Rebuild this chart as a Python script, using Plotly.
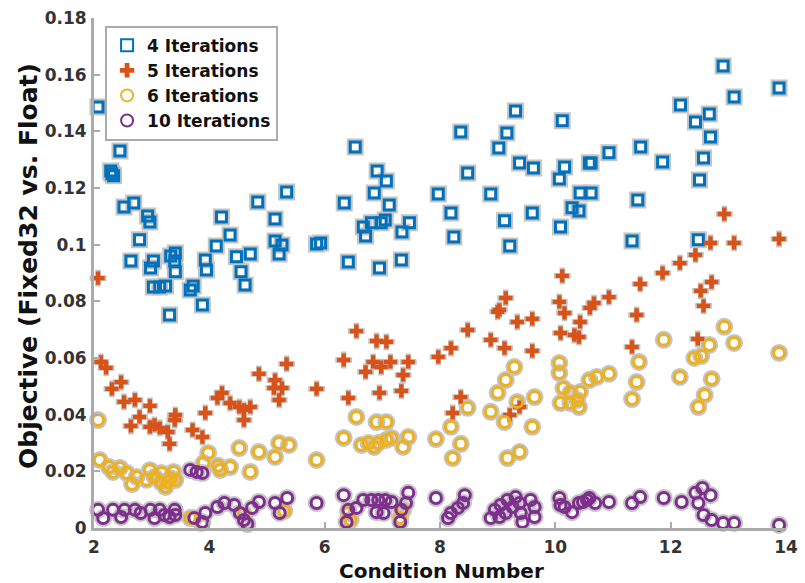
import plotly.graph_objects as go

# ---- data ----
x4 = [2.07, 2.45, 2.29, 2.31, 2.34, 2.52, 2.69, 2.93, 2.97, 2.79, 2.64, 3.03, 2.98,
      3.41, 3.40, 3.41, 3.33, 3.03, 3.24, 3.14, 3.67, 3.72, 3.88, 3.31, 3.93, 3.95,
      4.21, 4.36, 4.12, 4.47, 4.71, 4.55, 4.62, 4.84, 5.34, 5.14, 5.14, 5.26, 5.21, 5.86,
      6.53, 6.91, 7.07, 6.86, 7.12, 6.34, 6.67, 6.81, 6.98, 7.05, 6.71, 7.34, 7.47, 5.93,
      6.41, 6.95, 7.33,
      8.36, 9.31, 9.16, 9.02, 9.38, 9.62, 8.48, 7.97, 8.88, 8.19, 9.12, 9.60, 8.24, 9.21,
      12.91, 13.88, 13.10, 12.17, 12.67, 12.43, 12.69, 12.57, 12.50, 10.12, 11.48, 10.93,
      10.59, 10.62, 11.86, 10.16, 10.07, 10.43, 10.62, 10.29, 10.41, 11.43, 10.09, 11.33, 12.48]
y4 = [0.1486, 0.1331, 0.1260, 0.1250, 0.1243, 0.1133, 0.1147, 0.1101, 0.1080, 0.1017, 0.0942, 0.0942, 0.0918,
      0.0971, 0.0942, 0.0904, 0.0960, 0.0851, 0.0854, 0.0851, 0.0840, 0.0854, 0.0787, 0.0752, 0.0946, 0.0911,
      0.1098, 0.1034, 0.0995, 0.0957, 0.0967, 0.0904, 0.0858, 0.1151, 0.1186, 0.1091, 0.1013, 0.0999, 0.0967, 0.1002,
      0.1345, 0.1260, 0.1225, 0.1182, 0.1140, 0.1147, 0.1062, 0.1077, 0.1077, 0.1087, 0.1031, 0.1045, 0.1077, 0.1006,
      0.0939, 0.0918, 0.0946,
      0.1398, 0.1472, 0.1394, 0.1341, 0.1288, 0.1271, 0.1253, 0.1179, 0.1179, 0.1112, 0.1084, 0.1112, 0.1027, 0.0995,
      0.1631, 0.1553, 0.1521, 0.1493, 0.1461, 0.1433, 0.1380, 0.1306, 0.1228, 0.1437, 0.1345, 0.1324,
      0.1288, 0.1288, 0.1292, 0.1274, 0.1232, 0.1182, 0.1182, 0.1130, 0.1119, 0.1158, 0.1062, 0.1013, 0.1017]

x5 = [2.07, 2.12, 2.21, 2.31, 2.47, 2.52, 2.71, 2.97, 2.79, 2.64, 3.05, 3.14, 2.97, 3.41, 3.40,
      3.28, 3.31, 3.71, 3.88, 3.93, 4.14, 4.22, 4.36, 4.52, 4.60, 4.71, 4.60, 4.86, 5.34, 5.14,
      5.26, 5.21, 5.12, 5.86,
      6.55, 6.90, 7.07, 6.33, 6.71, 6.84, 6.98, 7.14, 7.36, 7.45, 6.41, 6.95, 7.33,
      7.97, 8.19, 8.48, 8.36, 8.22, 8.88, 9.12, 9.03, 9.34, 9.60, 9.60, 9.38, 9.21, 9.14, 9.00,
      10.07, 10.16, 10.67, 10.93, 10.60, 10.43, 10.09, 10.33, 10.41, 10.12, 11.47, 11.41, 11.33,
      11.86, 12.16, 12.43, 12.69, 13.10, 13.88, 12.93, 12.71, 12.52, 12.57, 12.47]
y5 = [0.0882, 0.0586, 0.0565, 0.0491, 0.0515, 0.0445, 0.0452, 0.0431, 0.0392, 0.0360, 0.0364, 0.0353, 0.0357, 0.0399, 0.0381,
      0.0339, 0.0297, 0.0346, 0.0321, 0.0406, 0.0459, 0.0477, 0.0441, 0.0427, 0.0417, 0.0427, 0.0381, 0.0544, 0.0579, 0.0522,
      0.0494, 0.0452, 0.0494, 0.0491,
      0.0695, 0.0660, 0.0657, 0.0593, 0.0551, 0.0586, 0.0568, 0.0586, 0.0540, 0.0586, 0.0459, 0.0477, 0.0484,
      0.0604, 0.0635, 0.0699, 0.0462, 0.0406, 0.0664, 0.0635, 0.0770, 0.0727, 0.0738, 0.0625, 0.0427, 0.0399, 0.0812, 0.0763,
      0.0798, 0.0759, 0.0794, 0.0815, 0.0777, 0.0727, 0.0688, 0.0681, 0.0674, 0.0890, 0.0861, 0.0752, 0.0639,
      0.0900, 0.0935, 0.0964, 0.1006, 0.1006, 0.1020, 0.1108, 0.0868, 0.0837, 0.0784, 0.0667]

x6 = [2.07, 2.10, 2.26, 2.33, 2.45, 2.57, 2.66, 2.74, 2.91, 2.97, 3.05, 3.17, 3.28, 3.33, 3.38,
      3.41, 3.24, 3.16, 3.90, 3.98, 4.15, 4.19, 4.36, 4.71, 4.86, 5.14, 5.21, 5.38, 5.86, 4.52,
      3.67, 3.86, 4.60, 5.30,
      6.55, 6.90, 7.07, 6.33, 6.64, 6.76, 6.93, 7.07, 7.16, 6.86, 7.36, 7.45,
      6.41, 6.45, 7.36, 7.31,
      7.93, 8.19, 8.48, 8.36, 8.22, 8.88, 9.00, 9.14, 9.29, 9.12, 9.34, 9.64, 9.60, 9.17, 9.38,
      10.07, 10.07, 10.14, 10.26, 10.09, 10.26, 10.38, 10.43, 10.59, 10.72, 10.93, 10.41,
      11.45, 11.41, 11.33, 11.88, 12.16, 12.41, 12.53, 12.67, 12.93, 13.10, 12.71, 12.59, 12.48, 13.88]
y6 = [0.0381, 0.0240, 0.0215, 0.0198, 0.0212, 0.0194, 0.0155, 0.0180, 0.0170, 0.0204, 0.0180, 0.0194, 0.0162, 0.0176, 0.0198,
      0.0169, 0.0145, 0.0162, 0.0229, 0.0265, 0.0220, 0.0205, 0.0215, 0.0198, 0.0268, 0.0251, 0.0300, 0.0293, 0.0240, 0.0282,
      0.0035, 0.0018, 0.0050, 0.0060,
      0.0392, 0.0374, 0.0374, 0.0318, 0.0293, 0.0300, 0.0300, 0.0311, 0.0318, 0.0286, 0.0286, 0.0321,
      0.0053, 0.0028, 0.0064, 0.0035,
      0.0314, 0.0357, 0.0424, 0.0297, 0.0247, 0.0410, 0.0477, 0.0522, 0.0568, 0.0374, 0.0445, 0.0462, 0.0357, 0.0247, 0.0268,
      0.0582, 0.0547, 0.0494, 0.0477, 0.0441, 0.0441, 0.0452, 0.0480, 0.0522, 0.0533, 0.0544, 0.0427,
      0.0586, 0.0515, 0.0455, 0.0664, 0.0533, 0.0600, 0.0607, 0.0646, 0.0710, 0.0653, 0.0526, 0.0469, 0.0427, 0.0618]

x10 = [2.07, 2.16, 2.33, 2.47, 2.53, 2.71, 2.81, 2.98, 3.05, 3.14, 3.22, 3.31, 3.40, 3.41,
       3.67, 3.78, 3.88,
       3.74, 3.93, 3.88, 4.14, 4.26, 4.43, 4.53, 4.60, 4.66, 4.74, 4.86, 5.14, 5.22, 5.35, 5.86,
       6.33, 6.41, 6.38, 6.55, 6.67, 6.81, 6.93, 7.05, 7.16, 6.90, 7.02, 7.31, 7.33, 7.45, 7.41,
       7.93, 8.43, 8.19, 8.31, 8.40, 8.14,
       8.88, 8.95, 9.05, 9.17, 9.26, 9.31, 9.38, 9.40, 9.43, 9.14, 9.03, 9.64, 9.64, 9.57,
       10.07, 10.16, 10.29, 10.41, 10.59, 10.69, 10.93, 11.33, 11.47, 11.88, 12.19, 12.43, 12.55,
       12.69, 12.48, 12.57, 12.71, 12.91, 13.10, 13.88, 10.09, 10.48, 10.55]
y10 = [0.0064, 0.0035, 0.0064, 0.0039, 0.0064, 0.0064, 0.0053, 0.0064, 0.0035, 0.0064, 0.0046, 0.0039, 0.0064, 0.0046,
       0.0205, 0.0198, 0.0194,
       0.0035, 0.0053, 0.0021, 0.0074, 0.0088, 0.0081, 0.0053, 0.0028, 0.0014, 0.0071, 0.0092, 0.0088, 0.0053, 0.0106, 0.0088,
       0.0116, 0.0064, 0.0021, 0.0071, 0.0099, 0.0099, 0.0099, 0.0099, 0.0092, 0.0056, 0.0053, 0.0021, 0.0064, 0.0124, 0.0088,
       0.0106, 0.0116, 0.0053, 0.0071, 0.0088, 0.0035,
       0.0035, 0.0064, 0.0081, 0.0099, 0.0074, 0.0109, 0.0088, 0.0053, 0.0021, 0.0053, 0.0039, 0.0074, 0.0039, 0.0099,
       0.0106, 0.0074, 0.0056, 0.0088, 0.0106, 0.0088, 0.0092, 0.0088, 0.0109, 0.0106, 0.0092, 0.0124, 0.0141,
       0.0116, 0.0088, 0.0046, 0.0028, 0.0018, 0.0018, 0.0011, 0.0081, 0.0092, 0.0099]

series_names = ["4 Iterations", "5 Iterations", "6 Iterations", "10 Iterations"]
series_colors = ["#0072BD", "#D95319", "#EDB120", "#7E2F8E"]

x_ticks = [2, 4, 6, 8, 10, 12, 14]
y_ticks = [0, 0.02, 0.04, 0.06, 0.08, 0.1, 0.12, 0.14, 0.16, 0.18]
y_tick_text = ["0", "0.02", "0.04", "0.06", "0.08", "0.1", "0.12", "0.14", "0.16", "0.18"]
x_title = "Condition Number"
y_title = "Objective (Fixed32 vs. Float)"

# ---- figure ----
FONT = "DejaVu Sans, Verdana, sans-serif"
HALO = "#c4c4c4"
data = [(x4, y4), (x5, y5), (x6, y6), (x10, y10)]
symbols = ["square-open", "cross", "circle-open", "circle-open"]
sizes = [10, 11, 11, 11]
widths = [3, 0, 3, 3]

fig = go.Figure()
# gray halo layer
for (xs, ys), sym, sz, w in zip(data, symbols, sizes, widths):
    if sym == "cross":
        mk = dict(symbol="cross", size=sz + 3, color=HALO, line=dict(width=0))
    else:
        mk = dict(symbol=sym, size=sz + 2, color=HALO, line=dict(width=w + 2, color=HALO))
    fig.add_trace(go.Scatter(x=xs, y=ys, mode="markers", marker=mk, showlegend=False,
                             hoverinfo="skip", cliponaxis=False))
for (xs, ys), name, col, sym, sz, w in zip(data, series_names, series_colors, symbols, sizes, widths):
    if sym == "cross":
        mk = dict(symbol="cross", size=sz, color=col, line=dict(width=0))
    else:
        mk = dict(symbol=sym, size=sz, color=col, line=dict(width=w, color=col))
    fig.add_trace(go.Scatter(x=xs, y=ys, mode="markers", name=name, marker=mk, cliponaxis=False))

axis_common = dict(
    showline=True, linecolor="#ababab", linewidth=3, mirror=False,
    ticks="inside", ticklen=6, tickwidth=2, tickcolor="#ababab",
    showgrid=False, zeroline=False, automargin=False,
    tickfont=dict(family=FONT, size=17, color="#333333", weight="bold"),
)
fig.update_xaxes(range=[2, 14], tickvals=x_ticks, ticktext=[str(v) for v in x_ticks],
                 ticklabelstandoff=2, **axis_common)
fig.update_yaxes(range=[0, 0.18], tickvals=y_ticks, ticktext=y_tick_text,
                 ticklabelstandoff=1, **axis_common)

fig.add_annotation(text=x_title, xref="paper", yref="paper", x=0.502, y=0,
                   xanchor="center", yanchor="middle", yshift=-43, showarrow=False,
                   font=dict(family=FONT, size=20, color="#111111", weight="bold"))
fig.add_annotation(text=y_title, xref="paper", yref="paper", x=0, y=0.5,
                   xanchor="center", yanchor="middle", xshift=-66, yshift=7,
                   textangle=-90, showarrow=False,
                   font=dict(family=FONT, size=25, color="#111111", weight="bold"))

fig.update_layout(
    width=805, height=583,
    margin=dict(l=94, r=19, t=18, b=55, autoexpand=False),
    paper_bgcolor="white", plot_bgcolor="white",
    legend=dict(x=0.016, y=0.985, xanchor="left", yanchor="top",
                bgcolor="white", bordercolor="#ababab", borderwidth=2,
                font=dict(family=FONT, size=17, color="#111111", weight="bold"),
                itemsizing="constant", tracegroupgap=0),
    showlegend=True,
)

fig.write_html("out.html")
